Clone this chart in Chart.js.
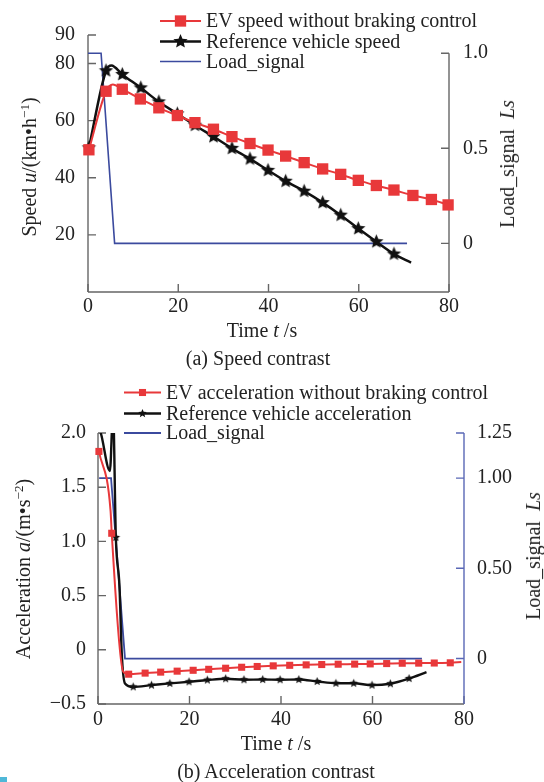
<!DOCTYPE html>
<html>
<head>
<meta charset="utf-8">
<script src="https://cdn.jsdelivr.net/npm/chart.js@4.4.1/dist/chart.umd.min.js"></script>
<style>
  body { margin: 0; background: #fff; }
  #wrap { position: relative; width: 544px; height: 782px; background: #fff; overflow: hidden; }
  canvas { position: absolute; left: 0; }
  .t { position: absolute; transform: translate(-50%, -50%); font: 20px "Liberation Serif", "Times New Roman", serif;
       color: #222; white-space: nowrap; line-height: 1; }
  .r { transform: translate(-50%, -50%) rotate(-90deg); }
  sup { font-size: 13px; vertical-align: 7px; line-height: 0; }
</style>
</head>
<body>
<div id="wrap">
  <canvas id="speedChart" width="544" height="370" style="top:0"></canvas>
  <canvas id="accChart" width="544" height="412" style="top:370px"></canvas>

  <div class="t" style="left:262px;top:330px">Time <i>t</i> /s</div>
  <div class="t" style="left:258px;top:358px">(a) Speed contrast</div>
  <div class="t r" style="left:29px;top:167px">Speed <i>u</i>/(km•h<sup>−1</sup>)</div>
  <div class="t r" style="left:507px;top:164px">Load_signal&nbsp;&nbsp;<i>Ls</i></div>

  <div class="t" style="left:276px;top:743px">Time <i>t</i> /s</div>
  <div class="t" style="left:276px;top:771px">(b) Acceleration contrast</div>
  <div class="t r" style="left:23px;top:569px">Acceleration <i>a</i>/(m•s<sup>−2</sup>)</div>
  <div class="t r" style="left:533px;top:556px">Load_signal&nbsp;&nbsp;<i>Ls</i></div>

  <div style="position:absolute;left:0;top:777px;width:7px;height:5px;background:#4fb8d8"></div>
</div>
<script>
// ---- (a) speed ----
const evSpeedT = [0.2, 4, 7.6, 11.6, 15.7, 19.8, 23.7, 27.8, 31.9, 35.9, 39.9, 43.8, 47.9, 52, 56, 59.9, 63.9, 67.8, 72, 76.1, 79.8];
const evSpeed = [49.8, 70.3, 71.0, 67.6, 64.5, 61.8, 59.3, 57.0, 54.4, 52.0, 49.7, 47.6, 45.3, 43.1, 41.2, 39.1, 37.3, 35.7, 33.8, 32.4, 30.5];
const evSpeedBendT = [5.5];
const evSpeedBend = [72.7];

const refSpeedT = [0.2, 4, 7.6, 11.7, 15.7, 19.8, 23.7, 27.8, 31.9, 35.9, 39.9, 43.8, 47.9, 52, 56, 59.9, 63.9, 67.8];
const refSpeed = [50.5, 77.5, 76.2, 71.5, 66.6, 62.4, 58.4, 54.4, 50.3, 46.6, 42.6, 38.8, 35.3, 31.3, 26.9, 22.2, 17.6, 13.3];
const refSpeedBendT = [5.2, 71.6];
const refSpeedBend = [79.3, 10.3];

const loadSpeedT = [0, 2.9, 5.9, 70.7];
const loadSpeed = [1, 1, 0, 0];

// ---- (b) acceleration ----
const evAccT = [0.2, 3.0, 6.7, 10.3, 13.7, 17.3, 20.8, 24.2, 27.9, 31.4, 34.8, 38.3, 41.9, 45.5, 48.9, 52.5, 56.1, 59.5, 63.1, 66.5, 70.1, 73.5, 77.0];
const evAcc = [1.83, 1.075, -0.225, -0.215, -0.206, -0.197, -0.189, -0.18, -0.17, -0.161, -0.154, -0.148, -0.143, -0.139, -0.136, -0.133, -0.132, -0.13, -0.127, -0.124, -0.123, -0.122, -0.12];
const evAccBendT = [2.75, 5.5, 79.4];
const evAccBend = [1.28, -0.2, -0.113];

const refAccT = [3.9, 7.7, 11.7, 15.7, 19.9, 23.9, 27.9, 31.9, 36.0, 39.8, 43.9, 47.9, 52.0, 55.9, 59.9, 63.9, 68.0];
const refAcc = [1.036, -0.342, -0.326, -0.31, -0.295, -0.279, -0.267, -0.276, -0.274, -0.276, -0.274, -0.292, -0.309, -0.309, -0.326, -0.313, -0.265];
const refAccBendT = [0, 0.6, 2.6, 3.3, 4.7, 5.2, 5.9, 71.8];
const refAccBend = [2.05, 2.0, 1.65, 2.2, 0.58, -0.04, -0.31, -0.206];

const loadAccT = [0.25, 2.85, 5.9, 70.8];
const loadAcc = [1, 1, 0, 0];

// ---- ticks ----
const timeTicks = [0, 20, 40, 60, 80];
const timeTickLabels = ['0', '20', '40', '60', '80'];
const speedTicks = [20, 40, 60, 80, 90];
const speedTickLabels = ['20', '40', '60', '80', '90'];
const lsTicksA = [0, 0.5, 1.0];
const lsTickLabelsA = ['0', '0.5', '1.0'];
const accTicks = [-0.5, 0, 0.5, 1.0, 1.5, 2.0];
const accTickLabels = ['\u22120.5', '0', '0.5', '1.0', '1.5', '2.0'];
const lsTicksB = [0, 0.5, 1.0, 1.25];
const lsTickLabelsB = ['0', '0.50', '1.00', '1.25'];

const RED = '#e8383a';
const BLACK = '#111111';
const BLUE = '#3b4a9e';
const AXIS = '#666666';

Chart.defaults.font.family = '"Liberation Serif", "Times New Roman", serif';
Chart.defaults.font.size = 20;
Chart.defaults.color = '#222';

function pts(markT, markV, bendT = [], bendV = []) {
  const a = markT.map((t, i) => ({ x: t, y: markV[i], m: true }));
  const b = bendT.map((t, i) => ({ x: t, y: bendV[i], m: false }));
  return a.concat(b).sort((p, q) => p.x - q.x);
}

function starImage(r, color) {
  const c = document.createElement('canvas');
  const s = Math.ceil(r * 2 + 2);
  c.width = c.height = s;
  const g = c.getContext('2d');
  g.fillStyle = color;
  g.beginPath();
  for (let i = 0; i < 10; i++) {
    const rr = i % 2 ? r * 0.45 : r;
    const a = -Math.PI / 2 + i * Math.PI / 5;
    g.lineTo(s / 2 + rr * Math.cos(a), s / 2 + rr * Math.sin(a));
  }
  g.closePath();
  g.fill();
  return c;
}

// axis lines with inward ticks
function axesPlugin(cfg) {
  return {
    id: 'axes',
    beforeDatasetsDraw(chart) {
      const { ctx, chartArea: a } = chart;
      const L = 8;
      ctx.save();
      ctx.lineWidth = 1.4;
      Object.entries(cfg).forEach(([id, o]) => {
        const s = chart.scales[id];
        ctx.strokeStyle = o.color;
        ctx.beginPath();
        if (s.axis === 'x') {
          ctx.moveTo(a.left, a.bottom);
          ctx.lineTo(a.right, a.bottom);
          s.ticks.forEach(t => {
            const p = s.getPixelForValue(t.value);
            ctx.moveTo(p, a.bottom);
            ctx.lineTo(p, a.bottom - L);
          });
        } else {
          const left = s.position === 'left';
          const x = left ? a.left : a.right;
          const dir = left ? 1 : -1;
          const top = o.from !== undefined ? s.getPixelForValue(o.from) : a.top;
          ctx.moveTo(x, top);
          ctx.lineTo(x, a.bottom);
          s.ticks.forEach(t => {
            const p = s.getPixelForValue(t.value);
            ctx.moveTo(x, p);
            ctx.lineTo(x + dir * L, p);
          });
        }
        ctx.stroke();
      });
      ctx.restore();
    }
  };
}

// legend drawn over the top of the plot
function legendPlugin(o) {
  return {
    id: 'topLegend',
    afterDraw(chart) {
      const ctx = chart.ctx;
      ctx.save();
      chart.data.datasets.forEach((ds, i) => {
        const y = o.ys[i];
        ctx.strokeStyle = ds.borderColor;
        ctx.lineWidth = ds.borderWidth;
        ctx.beginPath();
        ctx.moveTo(o.x1, y);
        ctx.lineTo(o.x2, y);
        ctx.stroke();
        const mk = o.marks[i];
        if (mk) {
          ctx.fillStyle = ds.borderColor;
          Chart.helpers.drawPoint(ctx, { pointStyle: mk.style, radius: mk.radius || 5, rotation: 0, borderWidth: 0 }, (o.x1 + o.x2) / 2, y);
        }
        ctx.fillStyle = '#222';
        ctx.font = '20px "Liberation Serif", "Times New Roman", serif';
        ctx.textBaseline = 'middle';
        ctx.textAlign = 'left';
        ctx.fillText(ds.label, o.textX, y + 1);
      });
      ctx.restore();
    }
  };
}

function fixedTicks(vals) {
  return s => { s.ticks = vals.map(v => ({ value: v })); };
}

function axis(pos, min, max, vals, labels, size, pad) {
  return {
    type: 'linear',
    position: pos,
    min: min,
    max: max,
    bounds: 'data',
    afterBuildTicks: fixedTicks(vals),
    afterFit: s => { if (pos === 'bottom') s.height = size; else s.width = size; },
    grid: { display: false },
    border: { display: false },
    ticks: { autoSkip: false, maxRotation: 0, padding: pad, callback: (v, i) => labels[i] }
  };
}

const starA = starImage(7.5, BLACK);
const starB = starImage(4.5, BLACK);

new Chart(document.getElementById('speedChart'), {
  type: 'line',
  data: {
    datasets: [
      {
        label: 'EV speed without braking control',
        data: pts(evSpeedT, evSpeed, evSpeedBendT, evSpeedBend),
        yAxisID: 'y',
        borderColor: RED, backgroundColor: RED, borderWidth: 2,
        pointStyle: 'rect', pointRadius: c => (c.raw && c.raw.m ? 8 : 0),
        pointBackgroundColor: RED, pointBorderColor: RED, pointBorderWidth: 0,
        cubicInterpolationMode: 'monotone', clip: false
      },
      {
        label: 'Reference vehicle speed',
        data: pts(refSpeedT, refSpeed, refSpeedBendT, refSpeedBend),
        yAxisID: 'y',
        borderColor: BLACK, backgroundColor: BLACK, borderWidth: 2.5,
        pointStyle: starA, pointRadius: c => (c.raw && c.raw.m ? 7 : 0),
        cubicInterpolationMode: 'monotone', clip: false
      },
      {
        label: 'Load_signal',
        data: pts(loadSpeedT, loadSpeed),
        yAxisID: 'y2',
        borderColor: BLUE, backgroundColor: BLUE, borderWidth: 1.6,
        pointRadius: 0, tension: 0, clip: false
      }
    ]
  },
  options: {
    responsive: false,
    animation: false,
    devicePixelRatio: 1,
    layout: { padding: { top: 35, left: 0, right: 0, bottom: 0 } },
    scales: {
      x: axis('bottom', 0, 80, timeTicks, timeTickLabels, 78, -5),
      y: axis('left', 0, 90, speedTicks, speedTickLabels, 88, 5),
      y2: axis('right', -0.256, 1.096, lsTicksA, lsTickLabelsA, 95, 6)
    },
    plugins: { legend: { display: false }, tooltip: { enabled: false } }
  },
  plugins: [
    axesPlugin({ x: { color: AXIS }, y: { color: AXIS }, y2: { color: AXIS, from: 1.0 } }),
    legendPlugin({ x1: 160, x2: 201, textX: 206, ys: [21, 41.5, 61.5],
                   marks: [{ style: 'rect', radius: 8 }, { style: starA }, null] })
  ]
});

new Chart(document.getElementById('accChart'), {
  type: 'line',
  data: {
    datasets: [
      {
        label: 'EV acceleration without braking control',
        data: pts(evAccT, evAcc, evAccBendT, evAccBend),
        yAxisID: 'y',
        borderColor: RED, backgroundColor: RED, borderWidth: 2,
        pointStyle: 'rect', pointRadius: c => (c.raw && c.raw.m ? 5 : 0),
        pointBackgroundColor: RED, pointBorderColor: RED, pointBorderWidth: 0,
        cubicInterpolationMode: 'monotone', clip: false
      },
      {
        label: 'Reference vehicle acceleration',
        data: pts(refAccT, refAcc, refAccBendT, refAccBend),
        yAxisID: 'y',
        borderColor: BLACK, backgroundColor: BLACK, borderWidth: 2.4,
        pointStyle: starB, pointRadius: c => (c.raw && c.raw.m ? 4 : 0),
        cubicInterpolationMode: 'monotone',
        clip: { left: 20, top: 0, right: 20, bottom: 20 }
      },
      {
        label: 'Load_signal',
        data: pts(loadAccT, loadAcc),
        yAxisID: 'y2',
        borderColor: BLUE, backgroundColor: BLUE, borderWidth: 1.8,
        pointRadius: 0, tension: 0, clip: false
      }
    ]
  },
  options: {
    responsive: false,
    animation: false,
    devicePixelRatio: 1,
    layout: { padding: { top: 63, left: 0, right: 0, bottom: 0 } },
    scales: {
      x: axis('bottom', 0, 80, timeTicks, timeTickLabels, 78, -4),
      y: axis('left', -0.5, 2.0, accTicks, accTickLabels, 98, 4),
      y2: axis('right', -0.252, 1.25, lsTicksB, lsTickLabelsB, 80, 5)
    },
    plugins: { legend: { display: false }, tooltip: { enabled: false } }
  },
  plugins: [
    axesPlugin({ x: { color: AXIS }, y: { color: AXIS }, y2: { color: '#5a68b6' } }),
    legendPlugin({ x1: 124, x2: 161, textX: 166, ys: [22.5, 43.5, 63],
                   marks: [{ style: 'rect', radius: 5 }, { style: starB }, null] })
  ]
});
</script>
</body>
</html>
